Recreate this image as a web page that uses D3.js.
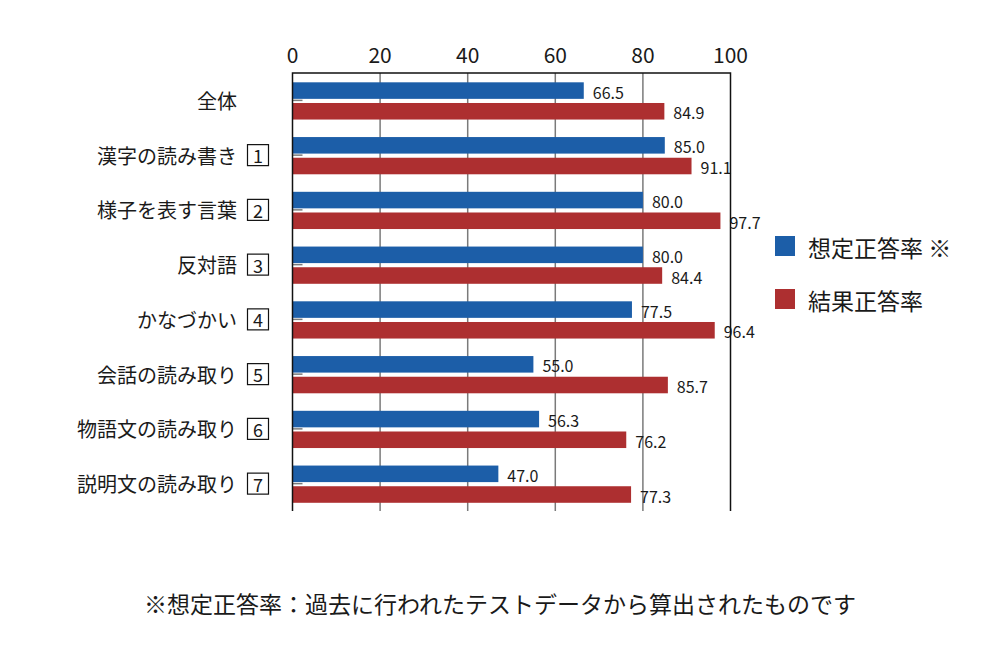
<!DOCTYPE html>
<html>
<head>
<meta charset="utf-8">
<script src="https://d3js.org/d3.v7.min.js"></script>
<style>
  body { margin: 0; background: #fff; }
  text { font-family: "Noto Sans CJK JP", "Noto Sans", sans-serif; fill: #1a1a1a; }
</style>
</head>
<body>
<div id="chart"></div>
<script>
var categories = ["全体", "漢字の読み書き", "様子を表す言葉", "反対語", "かなづかい", "会話の読み取り", "物語文の読み取り", "説明文の読み取り"];
var boxNumbers = ["", "1", "2", "3", "4", "5", "6", "7"];
var expected = [66.5, 85.0, 80.0, 80.0, 77.5, 55.0, 56.3, 47.0];
var result = [84.9, 91.1, 97.7, 84.4, 96.4, 85.7, 76.2, 77.3];
var xTicks = [0, 20, 40, 60, 80, 100];
var seriesNames = ["想定正答率 ※", "結果正答率"];
var seriesColors = ["#1c5ea8", "#ad2f30"];
var footnote = "※想定正答率：過去に行われたテストデータから算出されたものです";

var width = 1000, height = 660;
var plot = {left: 292.5, right: 730.5, top: 73, bottom: 511};

var svg = d3.select("#chart").append("svg")
  .attr("width", width)
  .attr("height", height);

var x = d3.scaleLinear().domain([0, 100]).range([plot.left, plot.right]);
var y = d3.scaleBand().domain(categories).range([plot.top, plot.bottom]);
var bw = y.bandwidth();
var ySub = d3.scaleBand().domain([0, 1])
  .range([bw * 0.17, bw * 0.85]).paddingInner(0.2);

// gridlines
svg.append("g")
  .selectAll("line")
  .data(xTicks.filter(function(d) { return d > 0 && d < 100; }))
  .join("line")
    .attr("x1", function(d) { return x(d); })
    .attr("x2", function(d) { return x(d); })
    .attr("y1", plot.top)
    .attr("y2", plot.bottom)
    .attr("stroke", "#7a7a7a")
    .attr("stroke-width", 1.5);

// top tick labels
svg.append("g")
  .selectAll("text")
  .data(xTicks)
  .join("text")
    .attr("x", function(d) { return x(d); })
    .attr("y", 63)
    .attr("text-anchor", "middle")
    .attr("font-size", 21)
    .text(function(d) { return d; });

// bars
var rows = categories.map(function(c, i) {
  return {cat: c, vals: [expected[i], result[i]]};
});

var groups = svg.append("g")
  .selectAll("g")
  .data(rows)
  .join("g")
    .attr("transform", function(d) { return "translate(0," + y(d.cat) + ")"; });

groups.selectAll("rect")
  .data(function(d) { return d.vals.map(function(v, k) { return {v: v, k: k}; }); })
  .join("rect")
    .attr("x", x(0))
    .attr("y", function(d) { return ySub(d.k); })
    .attr("width", function(d) { return x(d.v) - x(0); })
    .attr("height", ySub.bandwidth())
    .attr("fill", function(d) { return seriesColors[d.k]; });

groups.selectAll("text.val")
  .data(function(d) { return d.vals.map(function(v, k) { return {v: v, k: k}; }); })
  .join("text")
    .attr("class", "val")
    .attr("x", function(d) { return x(d.v) + 9; })
    .attr("y", function(d) { return ySub(d.k) + ySub.bandwidth() / 2 + 1; })
    .attr("dominant-baseline", "central")
    .attr("font-size", 16)
    .text(function(d) { return d.v.toFixed(1); });

// small category ticks
groups.append("line")
  .attr("x1", x(0))
  .attr("x2", x(0) + 10)
  .attr("y1", bw / 2)
  .attr("y2", bw / 2)
  .attr("stroke", "#7a7a7a")
  .attr("stroke-width", 1.5);

// frame: left, top, right
svg.append("path")
  .attr("d", "M" + plot.left + "," + plot.bottom + "V" + plot.top + "H" + plot.right + "V" + plot.bottom)
  .attr("fill", "none")
  .attr("stroke", "#111")
  .attr("stroke-width", 1.5);

// category labels
groups.append("text")
  .attr("x", 237)
  .attr("y", bw / 2)
  .attr("text-anchor", "end")
  .attr("dominant-baseline", "central")
  .attr("font-size", 20)
  .text(function(d) { return d.cat; });

var boxed = groups.filter(function(d, i) { return boxNumbers[i] !== ""; });
boxed.append("rect")
  .attr("x", 247.5)
  .attr("y", bw / 2 - 10.5)
  .attr("width", 21)
  .attr("height", 21)
  .attr("fill", "none")
  .attr("stroke", "#111")
  .attr("stroke-width", 1.2);
boxed.append("text")
  .attr("x", 258)
  .attr("y", bw / 2)
  .attr("text-anchor", "middle")
  .attr("dominant-baseline", "central")
  .attr("font-size", 18)
  .text(function(d) { return boxNumbers[categories.indexOf(d.cat)]; });

// legend
var legend = svg.append("g")
  .selectAll("g")
  .data(seriesNames)
  .join("g")
    .attr("transform", function(d, i) { return "translate(775," + (236 + i * 53) + ")"; });
legend.append("rect")
  .attr("width", 20)
  .attr("height", 20)
  .attr("fill", function(d, i) { return seriesColors[i]; });
legend.append("text")
  .attr("x", 33)
  .attr("y", 11)
  .attr("dominant-baseline", "central")
  .attr("font-size", 23)
  .text(function(d) { return d; });

// footnote
svg.append("text")
  .attr("x", 500)
  .attr("y", 603)
  .attr("text-anchor", "middle")
  .attr("dominant-baseline", "central")
  .attr("font-size", 23)
  .text(footnote);
</script>
</body>
</html>
